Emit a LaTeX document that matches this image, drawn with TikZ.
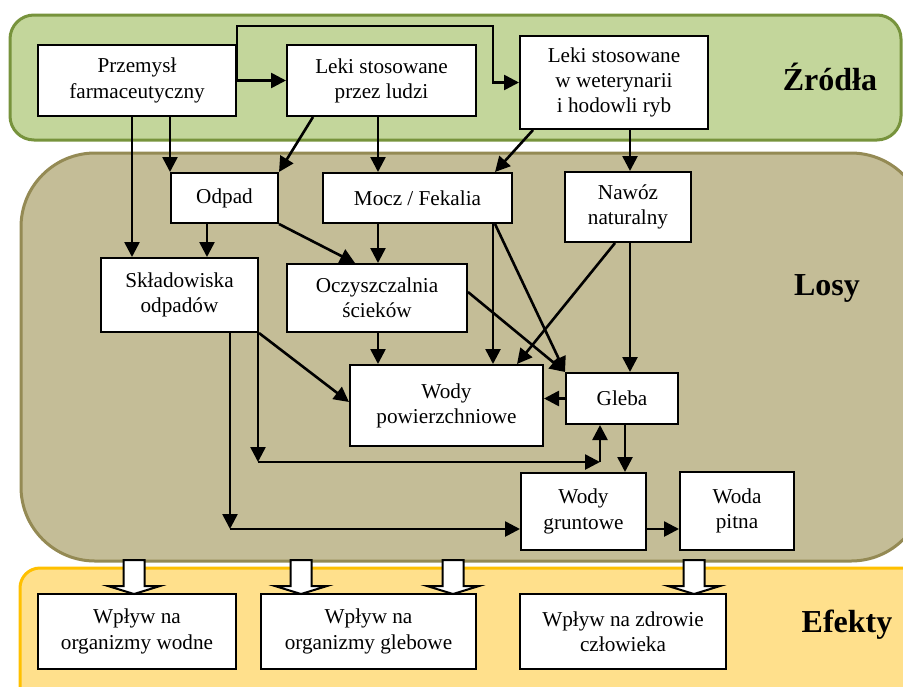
\documentclass[tikz,border=0pt]{standalone}
\usepackage{fontspec}
\setmainfont{Liberation Serif}
\usetikzlibrary{arrows.meta}
\definecolor{zrodlafill}{HTML}{C3D69B}
\definecolor{zrodlaline}{HTML}{77933C}
\definecolor{losyfill}{HTML}{C4BD97}
\definecolor{losyline}{HTML}{948A54}
\definecolor{efektyfill}{HTML}{FFE08C}
\definecolor{efektyline}{HTML}{FFC000}
\tikzstyle{box}=[draw=black,fill=white,line width=1pt,inner sep=0pt,align=center,font=\fontsize{10.6}{12.6}\selectfont]
\tikzstyle{edge}=[draw,line width=1.3pt,-{Triangle[length=7.5pt,width=7.5pt]}]
\tikzstyle{group}=[line width=1.5pt]
\tikzstyle{grouplabel}=[font=\fontsize{16}{19}\selectfont\bfseries]
\tikzstyle{blockarrow}=[draw=black,fill=white,line width=1pt]

\begin{document}
\begin{tikzpicture}[x=0.5pt,y=-0.5pt]
    \useasboundingbox (0,0) rectangle (903,686);
    % First the three coloured groups
    \begin{scope}
        \clip (0,0) rectangle (903,686);
        \path[group, draw=zrodlaline, fill=zrodlafill, rounded corners=12pt] (10,15) rectangle (901,140);
        \path[group, draw=losyline, fill=losyfill, rounded corners=37pt] (21,153) rectangle (925,561);
        \path[group, draw=efektyline, fill=efektyfill, rounded corners=10pt] (20,568) rectangle (925,705);
    \end{scope}
    \node[grouplabel] (zrodla) at (830,77) {Źródła};
    \node[grouplabel] (losy) at (827,288) {Losy};
    \node[grouplabel] (efekty) at (847,625) {Efekty};

    % Then the boxes
    \foreach \pos/\name/\w/\h/\txt in {
        {(137,80.5)/prz/99/35.5/{Przemysł\\farmaceutyczny}},
        {(381.5,80.5)/ludzie/94.5/35.5/{Leki stosowane\\przez ludzi}},
        {(614,82.5)/wet/94/46.5/{Leki stosowane\\w weterynarii\\i hodowli ryb}},
        {(224.5,198)/odpad/53.5/25/{Odpad}},
        {(417.5,198)/mocz/94.5/25/{Mocz / Fekalia}},
        {(628,207)/nawoz/63/35/{Nawóz\\naturalny}},
        {(179.5,295)/skl/78.5/37/{Składowiska\\odpadów}},
        {(377,298)/oczy/90/34/{Oczyszczalnia\\ścieków}},
        {(446.5,405.5)/wpow/96.5/40.5/{Wody\\powierzchniowe}},
        {(622,398.5)/gleba/56/25.5/{Gleba}},
        {(583.5,511.5)/wgrunt/62.5/38.5/{Wody\\gruntowe}},
        {(737,511)/pitna/57/39/{Woda\\pitna}},
        {(137,631.5)/efwoda/99/37.5/{Wpływ na\\organizmy wodne}},
        {(368.5,631.5)/efgleba/107.5/37.5/{Wpływ na\\organizmy glebowe}},
        {(623,631.5)/efczlowiek/103/37.5/{Wpływ na zdrowie\\człowieka}}}
        \node[box, minimum width=\w pt, minimum height=\h pt] (\name) at \pos {\txt};

    % Corners of the long bent arrows
    \coordinate (bend) at (493,26);
    \coordinate (c1) at (258,462);
    \coordinate (c2) at (600,462);
    \coordinate (c3) at (230,529);

    % Connect the boxes
    \path[edge] (prz.east) -- (ludzie.west);
    \path[edge] (prz.east) |- (bend) |- (wet.west);
    \path[edge] (prz.south -| 132,0) -- (skl.north -| 132,0);
    \path[edge] (prz.south -| odpad.north west) -- (odpad.north west);
    \path[edge] (ludzie.south -| 313,0) -- (odpad.north east);
    \path[edge] (ludzie.south -| 378,0) -- (mocz.north -| 378,0);
    \path[edge] (wet.south -| 533,0) -- (mocz.north -| 495,0);
    \path[edge] (wet.south -| 630,0) -- (nawoz.north -| 630,0);
    \path[edge] (odpad.south -| 207,0) -- (skl.north -| 207,0);
    \path[edge] (odpad.south east) -- (oczy.north -| 355,0);
    \path[edge] (mocz.south -| 378,0) -- (oczy.north -| 378,0);
    \path[edge] (mocz.south -| 493,0) -- (wpow.north -| 493,0);
    \path[edge] (mocz.south -| 495,0) -- (gleba.north west);
    \path[edge] (oczy.east |- 0,292) -- (gleba.north west);
    \path[edge] (nawoz.south -| 615,0) -- (wpow.north -| 517,0);
    \path[edge] (nawoz.south -| 630,0) -- (gleba.north -| 630,0);
    \path[edge] (oczy.south -| 378,0) -- (wpow.north -| 378,0);
    \path[edge] (skl.south east) -- (wpow.west |- 0,402);
    \path[edge] (gleba.west) -- (wpow.east |- gleba.west);
    \path[edge] (skl.south -| c1) -- (c1);
    \path[edge] (c1) -- (c2);
    \path[edge] (c2) -- (gleba.south -| c2);
    \path[edge] (skl.south -| c3) -- (c3);
    \path[edge] (c3) -- (wgrunt.west |- c3);
    \path[edge] (gleba.south -| 625,0) -- (wgrunt.north -| 625,0);
    \path[edge] (wgrunt.east |- 0,529) -- (pitna.west |- 0,529);

    % Block arrows from Losy down to Efekty
    \foreach \x in {134,301,453,694}
        \path[blockarrow] (\x-10.5,560) -- (\x+10.5,560) -- (\x+10.5,586) -- (\x+26,586)
            -- (\x,594) -- (\x-26,586) -- (\x-10.5,586) -- cycle;
\end{tikzpicture}
\end{document}
